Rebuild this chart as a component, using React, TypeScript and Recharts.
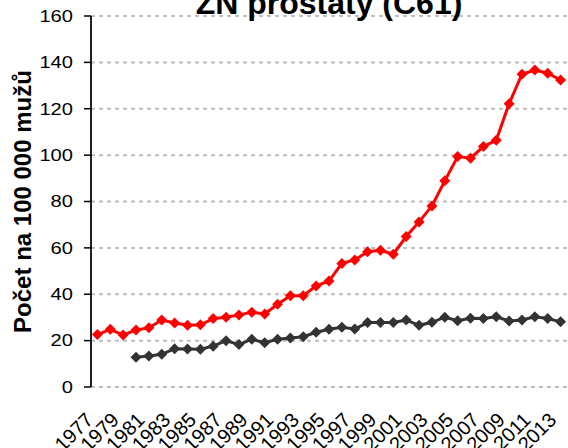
import { LineChart, Line, XAxis, YAxis, CartesianGrid } from 'recharts';

const years = [
  1977, 1978, 1979, 1980, 1981, 1982, 1983, 1984, 1985, 1986, 1987, 1988, 1989,
  1990, 1991, 1992, 1993, 1994, 1995, 1996, 1997, 1998, 1999, 2000, 2001, 2002,
  2003, 2004, 2005, 2006, 2007, 2008, 2009, 2010, 2011, 2012, 2013,
];

// incidence (red)
const incidence = [
  22.6, 24.9, 22.4, 24.6, 25.5, 28.9, 27.6, 26.6, 26.8, 29.5, 30.1, 31.1, 32.2,
  31.5, 35.7, 39.4, 39.4, 43.6, 45.7, 53.3, 54.8, 58.3, 59.0, 57.3, 64.9, 71.2,
  78.1, 88.9, 99.4, 98.7, 103.7, 106.4, 122.2, 134.9, 136.7, 135.3, 132.4,
];

// mortality (dark grey), no data before 1980
const mortality = [
  null, null, null, 12.8, 13.4, 14.1, 16.5, 16.4, 16.3, 17.6, 20.0, 18.3, 20.6,
  19.1, 20.6, 21.1, 21.7, 23.6, 24.9, 25.8, 25.0, 27.8, 27.8, 27.8, 28.9, 26.6,
  27.9, 30.1, 28.6, 29.6, 29.5, 30.3, 28.5, 28.9, 30.3, 29.5, 28.1,
];

const yearLabels = [
  1977, 1979, 1981, 1983, 1985, 1987, 1989, 1991, 1993, 1995, 1997, 1999, 2001,
  2003, 2005, 2007, 2009, 2011, 2013,
];
const yTicks = [0, 20, 40, 60, 80, 100, 120, 140, 160];

const data = years.map((year, i) => ({
  year,
  incidence: incidence[i],
  mortality: mortality[i],
}));

// tick marks sit between the years, like Excel
const boundaries = [...years.map((y) => y - 0.5), years[years.length - 1] + 0.5];
const xDomain = [boundaries[0], boundaries[boundaries.length - 1]];

const FONT = '"Liberation Sans", Arial, sans-serif';

function Diamond(props: any) {
  const { cx, cy, fill } = props;
  if (cx == null || cy == null) return <g />;
  const r = 5.5;
  return (
    <polygon
      points={`${cx},${cy - r} ${cx + r},${cy} ${cx},${cy + r} ${cx - r},${cy}`}
      fill={fill}
    />
  );
}

function YearTick(props: any) {
  const { x, y, payload } = props;
  return (
    <g transform={`translate(${x - 13},${y + 24})`}>
      <text
        transform="rotate(-45)"
        textAnchor="end"
        dy="0.71em"
        fontSize={20}
        fontFamily={FONT}
        fill="#000"
      >
        {payload.value}
      </text>
    </g>
  );
}

// the original's labels are a bit stretched sideways
function ValueTick(props: any) {
  const { x, y, payload } = props;
  return (
    <g transform={`translate(${x},${y}) scale(1.22,1)`}>
      <text textAnchor="end" dy="0.355em" fontSize={16.5} fontFamily={FONT} fill="#000">
        {payload.value}
      </text>
    </g>
  );
}

export default function App() {
  return (
    <div style={{ position: 'absolute', left: 0, top: 0, width: 568, height: 448, background: '#fff' }}>
      <LineChart width={568} height={448} data={data} margin={{ top: 16, right: 1, left: 0, bottom: 0 }}>
        <CartesianGrid
          xAxisId="yr"
          vertical={false}
          stroke="#BFBFBF"
          strokeWidth={2}
          strokeDasharray="4 4"
        />
        <XAxis
          xAxisId="tk"
          dataKey="year"
          type="number"
          domain={xDomain}
          ticks={boundaries}
          tick={false}
          tickSize={6}
          height={0}
          interval={0}
          allowDataOverflow
          axisLine={{ stroke: '#000', strokeWidth: 1.5 }}
          tickLine={{ stroke: '#000', strokeWidth: 1.5 }}
        />
        <XAxis
          xAxisId="yr"
          dataKey="year"
          type="number"
          domain={xDomain}
          ticks={yearLabels}
          interval={0}
          tick={<YearTick />}
          tickSize={0}
          tickMargin={0}
          height={61}
          allowDataOverflow
          axisLine={false}
          tickLine={false}
        />
        <YAxis
          domain={[0, 160]}
          ticks={yTicks}
          width={91}
          tickSize={7}
          tickMargin={11}
          axisLine={{ stroke: '#000', strokeWidth: 1.75 }}
          tickLine={{ stroke: '#000', strokeWidth: 1.5 }}
          tick={<ValueTick />}
          label={{
            value: 'Počet na 100 000 mužů',
            angle: -90,
            position: 'center',
            dx: -23,
            fill: '#000',
            fontSize: 24,
            fontWeight: 'bold',
            fontFamily: FONT,
          }}
        />
        <Line
          xAxisId="yr"
          dataKey="incidence"
          stroke="#FF0000"
          strokeWidth={3}
          dot={<Diamond fill="#FF0000" />}
          isAnimationActive={false}
        />
        <Line
          xAxisId="yr"
          dataKey="mortality"
          stroke="#333333"
          strokeWidth={3}
          dot={<Diamond fill="#333333" />}
          isAnimationActive={false}
        />
      </LineChart>
      <div
        style={{
          position: 'absolute',
          left: 91,
          width: 476,
          top: -14,
          textAlign: 'center',
          fontFamily: FONT,
          fontWeight: 'bold',
          fontSize: 32,
          lineHeight: '34px',
          color: '#000',
          whiteSpace: 'nowrap',
        }}
      >
        ZN prostaty (C61)
      </div>
    </div>
  );
}
